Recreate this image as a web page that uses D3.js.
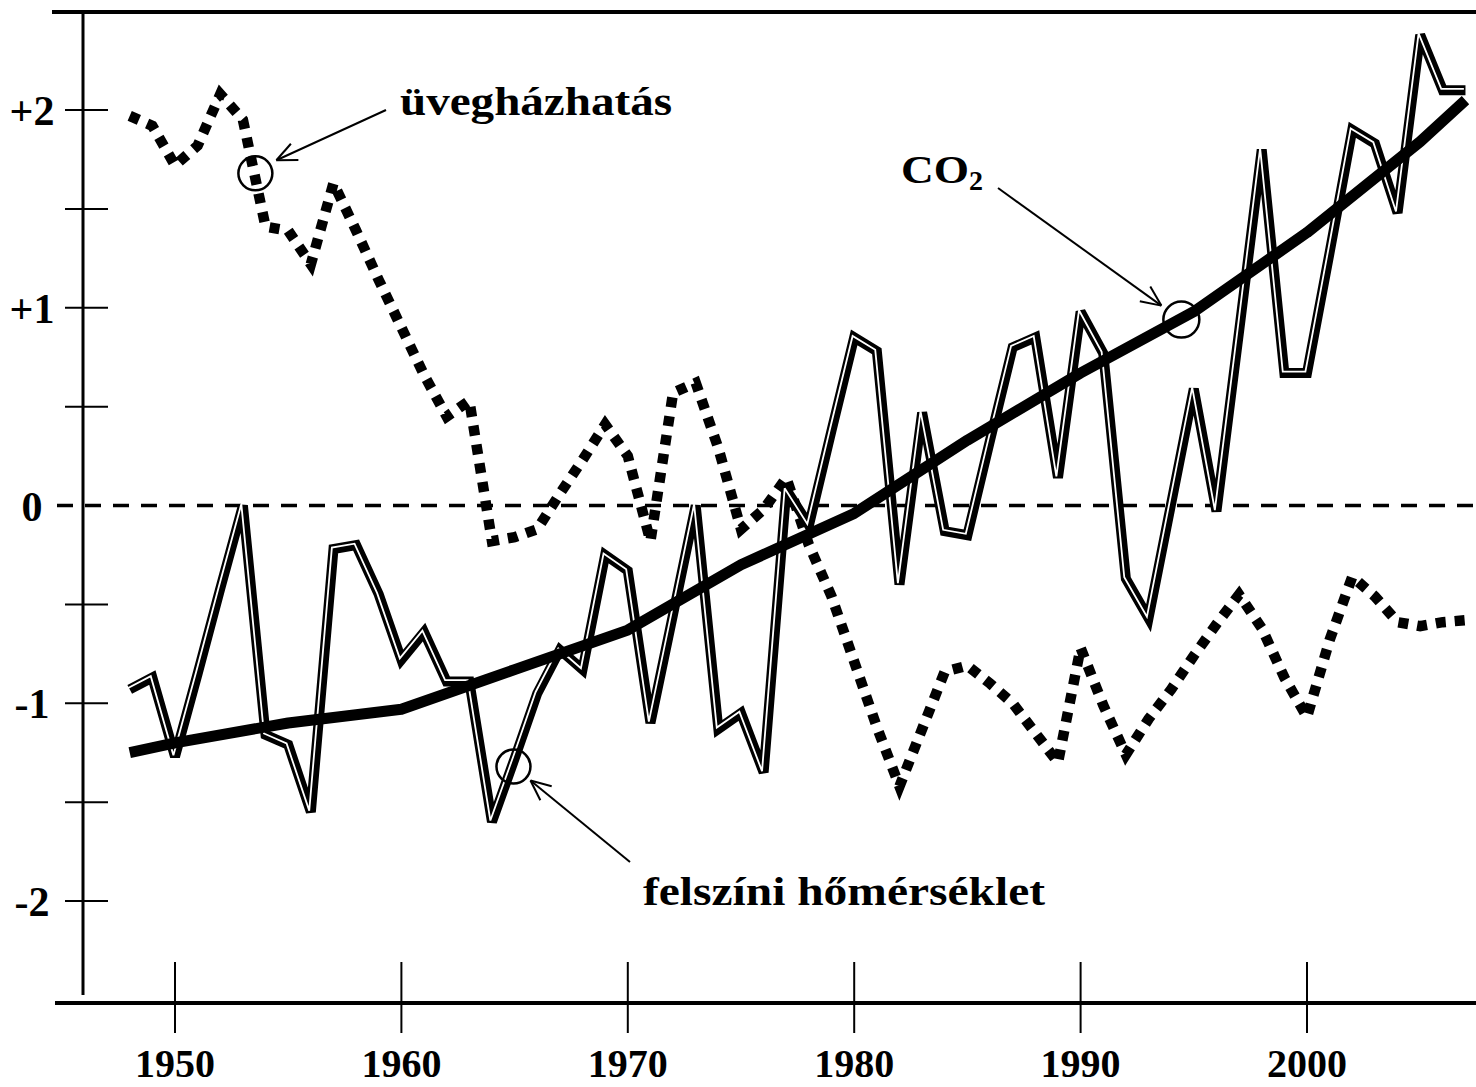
<!DOCTYPE html>
<html>
<head>
<meta charset="utf-8">
<script src="https://cdn.jsdelivr.net/npm/d3@7/dist/d3.min.js"></script>
<style>
  html, body { margin: 0; padding: 0; background: #fff; }
  svg { display: block; }
  text { font-family: "Liberation Serif", "Times New Roman", serif; font-weight: bold; fill: #000; }
</style>
</head>
<body>
<svg id="chart" width="1476" height="1087"></svg>
<script>
// ---------- data ----------
const years = [1948,1949,1950,1951,1952,1953,1954,1955,1956,1957,
               1958,1959,1960,1961,1962,1963,1964,1965,1966,1967,
               1968,1969,1970,1971,1972,1973,1974,1975,1976,1977,
               1978,1979,1980,1981,1982,1983,1984,1985,1986,1987,
               1988,1989,1990,1991,1992,1993,1994,1995,1996,1997,
               1998,1999,2000,2001,2002,2003,2004,2005,2006,2007];

// felszíni hőmérséklet (surface temperature)
const temperature = [-0.93,-0.87,-1.27,-0.85,-0.42,0.00,-1.16,-1.21,-1.55,-0.22,
                     -0.20,-0.45,-0.78,-0.64,-0.89,-0.89,-1.60,-1.28,-0.95,-0.73,
                     -0.83,-0.25,-0.33,-1.10,-0.55,0.00,-1.13,-1.05,-1.35,0.08,
                     -0.10,0.38,0.85,0.78,-0.40,0.47,-0.13,-0.15,0.33,0.80,
                     0.85,0.14,0.98,0.77,-0.37,-0.57,0.01,0.59,-0.03,0.88,
                     1.80,0.67,0.67,1.28,1.90,1.83,1.48,2.38,2.10,2.10];

// üvegházhatás (greenhouse effect)
const greenhouse = [1.97,1.92,1.72,1.82,2.08,1.95,1.41,1.39,1.22,1.63,
                    1.39,1.14,0.90,0.66,0.45,0.53,-0.18,-0.16,-0.12,0.06,
                    0.23,0.41,0.25,-0.18,0.57,0.62,0.29,-0.12,-0.02,0.14,
                    -0.20,-0.46,-0.79,-1.12,-1.42,-1.13,-0.84,-0.81,-0.90,-1.00,
                    -1.15,-1.30,-0.72,-1.01,-1.26,-1.08,-0.93,-0.76,-0.60,-0.45,
                    -0.62,-0.87,-1.07,-0.68,-0.36,-0.46,-0.59,-0.61,-0.59,-0.58];

// CO2
const co2Years = [1948,1950,1955,1960,1965,1970,1975,1980,1985,1990,1995,2000,2005,2007];
const co2 = [-1.25,-1.20,-1.10,-1.03,-0.83,-0.63,-0.30,-0.04,0.33,0.67,0.98,1.38,1.84,2.05];

const xTicks = [1950,1960,1970,1980,1990,2000];
const yMajorTicks = [2,1,-1,-2];
const yMinorTicks = [1.5,0.5,-0.5,-1.5];
const yLabels = [2,1,0,-1,-2];
const yLabelText = ["+2","+1","0","-1","-2"];

// annotation anchors (data coords)
const annGreenhouse = {year: 1953.55, value: 1.68, text: "üvegházhatás"};
const annCO2 = {year: 1994.45, value: 0.94};
const annTemp = {year: 1964.95, value: -1.32, text: "felszíni hőmérséklet"};

// ---------- scales ----------
const svg = d3.select("#chart");
const x = d3.scaleLinear().domain([1950, 2000]).range([175, 1307]);
const y = d3.scaleLinear().domain([-2, 2]).range([901, 110]);

// ---------- frame ----------
svg.append("line").attr("x1", 52).attr("x2", 1476).attr("y1", 12).attr("y2", 12)
  .attr("stroke", "#000").attr("stroke-width", 4);
svg.append("line").attr("x1", 55).attr("x2", 1476).attr("y1", 1003).attr("y2", 1003)
  .attr("stroke", "#000").attr("stroke-width", 4);
svg.append("line").attr("x1", 83).attr("x2", 83).attr("y1", 12).attr("y2", 995)
  .attr("stroke", "#000").attr("stroke-width", 3);

// y ticks
svg.selectAll("line.ymaj").data(yMajorTicks.concat(yMinorTicks)).join("line")
  .attr("class", "ymaj")
  .attr("x1", 65).attr("x2", 108)
  .attr("y1", d => y(d)).attr("y2", d => y(d))
  .attr("stroke", "#000").attr("stroke-width", 2);

// y labels
svg.selectAll("text.ylab").data(yLabels).join("text")
  .attr("class", "ylab")
  .attr("x", 32).attr("y", d => y(d) + 15)
  .attr("text-anchor", "middle")
  .attr("font-size", 42)
  .text((d, i) => yLabelText[i]);

// x ticks
svg.selectAll("line.xt").data(xTicks).join("line")
  .attr("class", "xt")
  .attr("x1", d => x(d)).attr("x2", d => x(d))
  .attr("y1", 962).attr("y2", 1033)
  .attr("stroke", "#000").attr("stroke-width", 2);

svg.selectAll("text.xlab").data(xTicks).join("text")
  .attr("class", "xlab")
  .attr("x", d => x(d)).attr("y", 1077)
  .attr("text-anchor", "middle")
  .attr("font-size", 40)
  .text(d => d);

// zero dashed line
svg.append("line").attr("x1", 57).attr("x2", 1476).attr("y1", y(0)).attr("y2", y(0))
  .attr("stroke", "#000").attr("stroke-width", 3.5).attr("stroke-dasharray", "16,12");

// ---------- series ----------
const line = d3.line().x(d => x(d[0])).y(d => y(d[1]));

const ghData = years.map((yr, i) => [yr, greenhouse[i]]);
svg.append("path").attr("d", line(ghData))
  .attr("fill", "none").attr("stroke", "#000").attr("stroke-width", 10.5)
  .attr("stroke-dasharray", "10,9").attr("stroke-linejoin", "miter");

const tData = years.map((yr, i) => [yr, temperature[i]]);
svg.append("path").attr("d", line(tData))
  .attr("fill", "none").attr("stroke", "#000").attr("stroke-width", 10)
  .attr("stroke-linejoin", "miter").attr("stroke-miterlimit", 3);
svg.append("path").attr("d", line(tData))
  .attr("transform", "translate(-1.6,-1.4)")
  .attr("fill", "none").attr("stroke", "#fff").attr("stroke-width", 1.8)
  .attr("stroke-linejoin", "miter").attr("stroke-miterlimit", 3);

const cData = co2Years.map((yr, i) => [yr, co2[i]]);
svg.append("path").attr("d", line(cData))
  .attr("fill", "none").attr("stroke", "#000").attr("stroke-width", 11)
  .attr("stroke-linejoin", "round");

// ---------- annotations ----------
function circleAt(a, r) {
  svg.append("circle").attr("cx", x(a.year)).attr("cy", y(a.value)).attr("r", r)
    .attr("fill", "none").attr("stroke", "#000").attr("stroke-width", 2.5);
}
function arrow(x1, y1, x2, y2) {
  svg.append("line").attr("x1", x1).attr("y1", y1).attr("x2", x2).attr("y2", y2)
    .attr("stroke", "#000").attr("stroke-width", 2);
  const ang = Math.atan2(y2 - y1, x2 - x1);
  const L = 22, spread = 0.42;
  [ang + Math.PI - spread, ang + Math.PI + spread].forEach(a => {
    svg.append("line").attr("x1", x2).attr("y1", y2)
      .attr("x2", x2 + L * Math.cos(a)).attr("y2", y2 + L * Math.sin(a))
      .attr("stroke", "#000").attr("stroke-width", 2);
  });
}

// üvegházhatás
circleAt(annGreenhouse, 17);
arrow(386, 110, x(annGreenhouse.year) + 21, y(annGreenhouse.value) - 13);
svg.append("text").attr("x", 400).attr("y", 115).attr("font-size", 41)
  .attr("textLength", 272).attr("lengthAdjust", "spacingAndGlyphs")
  .text(annGreenhouse.text);

// CO2
circleAt(annCO2, 18);
arrow(998, 188, x(annCO2.year) - 20, y(annCO2.value) - 14);
const co2Text = svg.append("text").attr("x", 901).attr("y", 183).attr("font-size", 41);
co2Text.append("tspan").attr("textLength", 68).attr("lengthAdjust", "spacingAndGlyphs").text("CO");
co2Text.append("tspan").attr("font-size", 28).attr("dy", 7).text("2");

// felszíni hőmérséklet
circleAt(annTemp, 17);
arrow(630, 862, x(annTemp.year) + 17, y(annTemp.value) + 14);
svg.append("text").attr("x", 643).attr("y", 905).attr("font-size", 41)
  .attr("textLength", 402).attr("lengthAdjust", "spacingAndGlyphs")
  .text(annTemp.text);
</script>
</body>
</html>
